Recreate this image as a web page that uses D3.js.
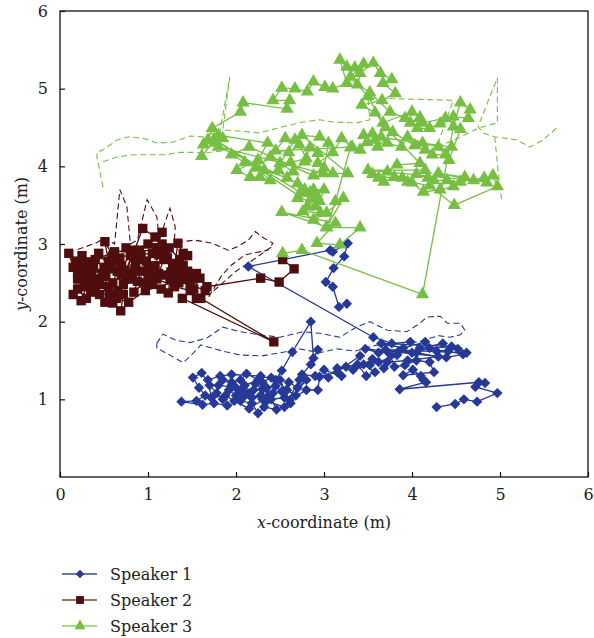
<!DOCTYPE html>
<html>
<head>
<meta charset="utf-8">
<script src="https://cdnjs.cloudflare.com/ajax/libs/d3/7.8.5/d3.min.js"></script>
<style>
  body { margin: 0; background: #fff; }
  text { font-family: "DejaVu Serif", "Liberation Serif", serif; }
</style>
</head>
<body>
<div id="chart"></div>
<script>
/*  data (metres)  */
var xTicks = [0, 1, 2, 3, 4, 5, 6];
var yTicks = [1, 2, 3, 4, 5, 6];
var speakerNames = ["Speaker 1", "Speaker 2", "Speaker 3"];
var speakerColors = ["#263996", "#4f0d0d", "#76bf43"];
var legendLineColors = ["#3b4aa0", "#7a4444", "#8fd060"];

// estimated positions, speaker 1
var est1 = [
  [3.26,2.23],[3.17,2.19],[3.10,2.45],[3.02,2.51],[3.11,2.69],[3.23,2.84],[3.27,3.01],[3.10,2.90],
  [3.07,2.92],[2.14,2.71],[3.56,1.80],[3.77,1.72],[3.98,1.74],[4.09,1.66],[4.35,1.72],[4.41,1.62],
  [4.58,1.58],[4.39,1.54],[3.47,1.65],[3.62,1.60],[3.85,1.62],[4.00,1.60],[4.20,1.66],[4.45,1.68],
  [3.65,1.72],[3.90,1.66],[4.15,1.74],[4.28,1.62],[4.52,1.65],[4.62,1.60],[3.70,1.64],[4.05,1.60],
  [4.30,1.55],[3.95,1.50],[3.72,1.48],[3.83,1.57],[3.52,1.44],[3.33,1.38],[3.41,1.56],[3.15,1.35],
  [2.95,1.29],[2.93,1.12],[2.80,1.12],[2.61,0.99],[2.80,1.25],[2.70,1.15],[2.60,1.22],[2.52,1.10],
  [2.45,1.17],[2.38,1.05],[2.30,1.13],[2.22,1.20],[2.15,1.08],[2.08,1.15],[2.00,1.05],[1.92,1.12],
  [1.85,1.00],[1.78,1.08],[1.70,1.18],[1.61,1.34],[1.51,1.28],[1.58,1.15],[1.65,1.05],[1.55,0.98],
  [1.38,0.97],[1.62,0.93],[1.75,0.95],[1.90,0.92],[2.05,0.98],[2.18,0.95],[2.25,0.82],[2.32,0.90],
  [2.46,0.87],[2.40,1.00],[2.55,1.02],[2.62,0.95],[2.50,1.25],[2.40,1.28],[2.30,1.22],[2.12,1.33],
  [2.05,1.25],[1.95,1.22],[1.85,1.25],[1.80,1.18],[2.00,1.15],[2.10,1.05],[2.20,1.12],[2.35,1.15],
  [2.28,1.05],[2.18,1.02],[2.10,1.18],[2.25,1.25],[2.35,0.98],[2.42,1.08],[2.15,0.88],[1.98,0.98],
  [1.88,1.05],[1.72,1.02],[1.68,1.25],[1.82,1.30],[1.95,1.32],[2.28,1.30],[2.45,1.25],[2.58,1.12],
  [2.68,1.05],[2.72,1.25],[2.55,0.90],[2.05,1.10],[1.95,1.18],[2.30,1.00],
  [2.52,1.37],[2.64,1.61],[2.85,2.00],[2.88,1.53],[2.93,1.64],[2.85,1.45],[2.75,1.32],[2.90,1.30],
  [3.05,1.28],[3.00,1.38],[3.20,1.30],[3.15,1.40],[3.25,1.42],[3.38,1.45],[3.48,1.30],[3.58,1.35],
  [3.45,1.45],[3.55,1.52],[3.62,1.48],[3.68,1.40],[3.75,1.58],[3.80,1.42],[3.92,1.44],[4.05,1.50],
  [4.20,1.48],[4.25,1.35],[3.90,1.31],[4.01,1.38],[4.10,1.30],[4.13,1.25],[4.16,1.22],[3.86,1.13],
  [4.76,1.22],[4.83,1.21],[4.72,1.16],[4.97,1.08],[4.74,0.97],[4.59,1.00],[4.49,0.94],[4.28,0.90]
];
// true path, speaker 1 (null breaks the line)
var true1 = [
  [1.10,1.72],[1.17,1.84],[1.32,1.76],[1.48,1.73],[1.67,1.79],[1.85,1.93],[2.05,1.87],[2.27,1.83],
  [2.50,1.80],[2.76,1.87],[2.95,1.85],[3.18,1.80],[3.37,1.93],[3.52,2.00],[3.72,1.89],[3.94,1.87],
  [4.09,1.98],[4.17,2.06],[4.32,2.07],[4.40,1.98],[4.55,1.98],[4.60,1.89],[4.55,1.83],[4.43,1.80],
  [4.30,1.82],[4.10,1.75],[3.85,1.68],[3.60,1.70],[3.35,1.62],[3.15,1.65],[2.95,1.60],[2.72,1.65],
  [2.55,1.61],[2.30,1.56],[2.05,1.57],[1.85,1.62],[1.60,1.70],[1.52,1.60],[1.40,1.47],[1.28,1.55],
  [1.10,1.66],[1.10,1.72]
];

// estimated positions, speaker 2
var est2 = [
  [0.10,2.88],[0.15,2.70],[0.20,2.55],[0.15,2.35],[0.24,2.27],[0.30,2.45],[0.25,2.62],[0.32,2.77],
  [0.25,2.85],[0.38,2.70],[0.42,2.55],[0.35,2.40],[0.45,2.35],[0.51,2.25],[0.55,2.45],[0.48,2.62],
  [0.55,2.78],[0.51,3.03],[0.60,2.85],[0.65,2.65],[0.60,2.50],[0.60,2.24],[0.69,2.14],[0.72,2.35],
  [0.78,2.55],[0.70,2.72],[0.80,2.85],[0.75,2.95],[0.88,2.80],[0.92,2.65],[0.84,2.38],[0.95,2.50],
  [1.00,2.72],[1.05,2.88],
  [0.18,2.78],[0.22,2.68],[0.28,2.58],[0.33,2.66],[0.38,2.52],[0.45,2.48],[0.52,2.58],[0.58,2.68],
  [0.62,2.78],[0.68,2.82],[0.74,2.66],[0.82,2.62],[0.86,2.75],[0.92,2.85],[0.98,2.78],[1.02,2.66],
  [1.08,2.72],[1.12,2.86],[1.22,2.82],[1.26,2.64],[1.32,2.58],[1.40,2.72],[1.36,2.80],[1.24,2.95],
  [1.16,3.00],[1.00,3.00],[0.84,2.92],[0.66,2.40],[0.56,2.34],[0.40,2.38],[0.30,2.30],[0.20,2.42],
  [0.26,2.72],[0.44,2.88],[0.72,2.48],[0.88,2.52],[1.10,2.55],[1.30,2.45],[1.48,2.40],[1.55,2.30],
  [1.42,2.55],[0.97,2.40],[0.78,2.25],[0.64,2.30],
  [0.94,3.20],[1.08,3.09],[1.16,3.15],[1.10,2.95],[1.18,2.80],[1.12,2.62],
  [1.05,2.48],[1.15,2.42],[1.23,2.37],[1.25,2.55],[1.30,2.70],[1.34,3.01],[1.40,2.88],[1.45,2.85],
  [1.38,2.62],[1.50,2.55],[1.59,2.56],[1.52,2.42],[1.39,2.30],[2.43,1.74],[1.60,2.30],[1.65,2.40],
  [1.48,2.48],[1.35,2.50],[1.20,2.60],[1.00,2.60],[0.85,2.68],[0.70,2.60],[0.50,2.70],[0.35,2.58],
  [0.20,2.62],[0.28,2.50],[0.40,2.80],[0.62,2.90],[0.90,2.92],[1.20,2.90],[1.28,2.75],[1.45,2.65],
  [1.55,2.62],[1.67,2.45],[2.28,2.56],[2.49,2.51],[2.66,2.68],[2.53,2.80]
];
var true2 = [
  [0.20,2.93],[0.28,2.96],[0.42,3.02],[0.51,3.08],[0.62,3.00],[0.68,3.70],[0.76,3.48],[0.80,3.00],
  [0.88,3.05],[0.99,3.57],[1.10,3.35],[1.13,3.05],[1.20,3.30],[1.25,3.46],[1.31,3.22],[1.30,3.05],
  [1.39,3.03],[1.53,3.05],[1.73,3.01],[1.91,2.92],[2.01,2.96],[2.14,3.05],[2.22,3.16],[2.31,3.08],
  [2.42,3.01],[2.36,2.92],[2.10,2.86],[1.95,2.73],[1.84,2.60],[1.68,2.30],null,
  [2.40,2.96],[2.20,2.80],[2.00,2.65],[1.73,2.38]
];

// estimated positions, speaker 3
var est3 = [
  [2.53,2.88],[2.75,2.92],[4.12,2.35],[4.47,4.51],[4.55,4.82],[4.66,4.73],[4.64,4.62],[4.47,4.64],
  [4.32,4.55],[4.20,4.49],[4.06,4.49],[3.98,4.56],[4.09,4.63],[4.00,4.70],[3.67,4.56],[3.58,4.69],
  [3.43,4.79],[3.66,4.85],[3.81,4.94],[3.67,5.07],[3.77,5.12],[3.64,5.20],[3.56,5.33],[3.41,5.20],
  [3.35,5.27],[3.26,5.28],[3.18,5.37],[3.26,5.07],[3.10,5.00],[3.01,5.02],[2.88,5.09],[2.81,4.96],
  [2.67,5.00],[2.52,5.01],[2.42,4.85],[2.61,4.85],[2.58,4.74],[2.08,4.82],[2.05,4.70],[1.73,4.49],
  [1.68,4.34],[1.85,4.36],[1.76,4.30],[1.63,4.28],[1.61,4.13],[1.80,4.40],[2.36,4.30],[2.25,4.08],
  [2.01,3.95],[2.16,3.86],[2.27,3.86],[2.39,3.82],[2.22,3.98],[2.39,4.12],[2.56,4.36],[2.67,4.34],
  [2.50,4.04],[2.65,3.93],[2.78,4.06],[2.84,4.24],[2.93,4.17],[2.93,4.04],[3.10,4.18],[3.20,4.36],
  [3.32,4.25],
  [2.45,4.20],[2.60,4.18],[2.72,4.28],[2.80,4.10],[2.62,4.05],[2.48,3.95],[2.58,3.85],[2.32,3.95],
  [2.10,4.05],[1.95,4.15],[2.15,4.25],[2.88,3.88],[3.00,3.98],[3.05,4.30],[2.95,4.38],[2.75,4.40],
  [3.27,3.91],[3.10,3.91],[2.99,3.91],[1.80,4.25],[2.70,3.78],[2.73,3.66],[2.70,3.59],
  [2.84,3.66],[2.88,3.70],[2.81,3.48],[2.90,3.48],[1.75,4.35],[2.85,3.58],[2.95,3.55],[3.00,3.70],
  [2.78,3.70],[2.92,3.62],[2.96,3.40],[2.76,3.42],[2.88,3.31],[3.03,3.40],[3.22,3.59],
  [3.03,3.22],[2.52,3.41],[3.13,3.27],[2.92,3.01],[3.18,2.99],[3.41,3.21],[3.03,3.21],[3.13,3.55],
  [3.30,4.24],[3.41,4.21],[3.49,4.31],[3.58,4.34],[3.61,4.25],[3.78,4.44],[4.03,4.27],[4.15,4.21],
  [4.23,4.15],[4.38,4.15],[4.45,4.25],
  [3.45,4.40],[3.55,4.42],[3.65,4.38],[3.72,4.30],[3.88,4.25],[3.95,4.38],[4.12,4.30],[4.30,4.25],
  [4.42,4.08],[4.55,4.48],[4.38,4.62],[4.12,4.56],[3.92,4.62],[3.75,4.70],[3.52,4.95],[3.38,5.05],
  [3.45,5.32],[3.30,5.15],[3.50,4.90],[3.70,4.50],
  [4.09,4.04],[3.83,4.02],[3.72,3.93],[3.89,3.85],[4.00,3.79],
  [4.13,3.67],[4.32,3.70],[4.47,3.74],[4.60,3.86],[4.30,3.91],[4.85,3.79],[4.92,3.88],[4.97,3.74],
  [4.48,3.50],[4.20,3.75],
  [3.55,3.90],[3.62,3.85],[3.68,3.80],[3.80,3.86],[3.95,3.80],[4.05,3.90],[4.18,3.85],[4.25,3.82],
  [4.40,3.82],[4.55,3.80],[4.82,3.85],[4.70,3.82],[3.50,3.95],[4.15,3.95]
];
var true3 = [
  [0.49,3.73],[0.42,4.12],[0.42,4.18],[0.50,4.22],[0.65,4.34],[0.78,4.38],[0.95,4.36],[1.10,4.30],
  [1.28,4.31],[1.48,4.39],[1.63,4.38],[1.82,4.47],[1.93,5.15],[1.85,4.47],[1.97,4.46],[2.27,4.43],
  [2.53,4.51],[2.76,4.57],[2.95,4.60],[3.10,4.57],[3.37,4.56],[3.52,4.60],[3.50,4.88],[4.47,4.85],
  [4.28,4.25],[4.50,4.35],[4.75,4.49],[4.97,4.56],[4.97,5.14],[4.75,4.51],[4.81,4.43],[4.94,4.38],
  [5.19,4.34],[5.34,4.25],[5.49,4.34],[5.66,4.51],null,
  [0.49,4.06],[0.65,4.12],[0.83,4.15],[1.02,4.15],[1.22,4.15],[1.33,4.18],[1.51,4.18],[1.63,4.17],
  [1.85,4.20],null,
  [4.94,4.38],[5.00,3.70],[5.02,3.57]
];

/*  layout  */
var W = 594, H = 638;
var x = d3.scaleLinear().domain([0, 6]).range([60, 588]);
var y = d3.scaleLinear().domain([0, 6]).range([477, 11]);

var svg = d3.select("#chart").append("svg")
  .attr("width", W).attr("height", H)
  .attr("xmlns", "http://www.w3.org/2000/svg");

// frame
svg.append("rect")
  .attr("x", x(0)).attr("y", y(6))
  .attr("width", x(6) - x(0)).attr("height", y(0) - y(6))
  .style("fill", "none").style("stroke", "#111").style("stroke-width", 1.3);

// axes, ticks inward
var xAxis = svg.append("g").attr("transform", "translate(0," + y(0) + ")")
  .call(d3.axisBottom(x).tickValues(xTicks).tickSize(-5).tickPadding(12).tickFormat(d3.format("d")));
var yAxis = svg.append("g").attr("transform", "translate(" + x(0) + ",0)")
  .call(d3.axisLeft(y).tickValues(yTicks).tickSize(-5).tickPadding(12).tickFormat(d3.format("d")));
[xAxis, yAxis].forEach(function(g){
  g.attr("font-family", null).attr("font-size", 16);
  g.select(".domain").remove();
  g.selectAll("line").style("stroke", "#111").style("stroke-width", 1.2);
  g.selectAll("text").attr("fill", "#222");
});

// axis titles
var xt = svg.append("text").attr("x", (x(0) + x(6)) / 2).attr("y", 528)
  .attr("text-anchor", "middle").attr("font-size", 16).attr("fill", "#222");
xt.append("tspan").attr("font-style", "italic").text("x");
xt.append("tspan").text("-coordinate (m)");
var yt = svg.append("text").attr("transform", "translate(27," + ((y(0) + y(6)) / 2) + ") rotate(-90)")
  .attr("text-anchor", "middle").attr("font-size", 16).attr("fill", "#222");
yt.append("tspan").attr("font-style", "italic").text("y");
yt.append("tspan").text("-coordinate (m)");

/*  markers  */
function marker(i, scale){
  var s = scale || 1;
  if (i === 0) return d3.symbol().type(d3.symbolSquare).size(54 * s)();
  if (i === 1) return d3.symbol().type(d3.symbolSquare).size(88 * s)();
  return d3.symbol().type(d3.symbolTriangle).size(76 * s)();
}
function markerRot(i){ return i === 0 ? " rotate(45)" : ""; }

var line = d3.line()
  .defined(function(d){ return d !== null; })
  .x(function(d){ return x(d[0]); })
  .y(function(d){ return y(d[1]); });

var ests = [est1, est2, est3];
var truths = [true1, true2, true3];

// true paths (dashed) under everything
truths.forEach(function(t, i){
  svg.append("path").attr("d", line(t))
    .style("fill", "none").style("stroke", speakerColors[i])
    .style("stroke-width", 1.1).style("stroke-dasharray", "6,3.5");
});

ests.forEach(function(e, i){
  var g = svg.append("g");
  g.append("path").attr("d", line(e))
    .style("fill", "none").style("stroke", speakerColors[i]).style("stroke-width", 1.3);
  g.selectAll("path.m").data(e).enter().append("path").attr("class", "m")
    .attr("d", marker(i))
    .attr("transform", function(d){ return "translate(" + x(d[0]) + "," + y(d[1]) + ")" + markerRot(i); })
    .style("fill", speakerColors[i]);
});

/*  legend  */
var legendY = [574, 600, 626];
speakerNames.forEach(function(name, i){
  var lg = svg.append("g").attr("transform", "translate(0," + legendY[i] + ")");
  lg.append("line").attr("x1", 62).attr("x2", 97).attr("y1", 0).attr("y2", 0)
    .style("stroke", legendLineColors[i]).style("stroke-width", 1.4);
  lg.append("path").attr("d", marker(i, 0.7))
    .attr("transform", "translate(80,0)" + markerRot(i))
    .style("fill", speakerColors[i]);
  lg.append("text").attr("x", 110).attr("y", 6).attr("font-size", 16).attr("fill", "#222").text(name);
});
</script>
</body>
</html>
